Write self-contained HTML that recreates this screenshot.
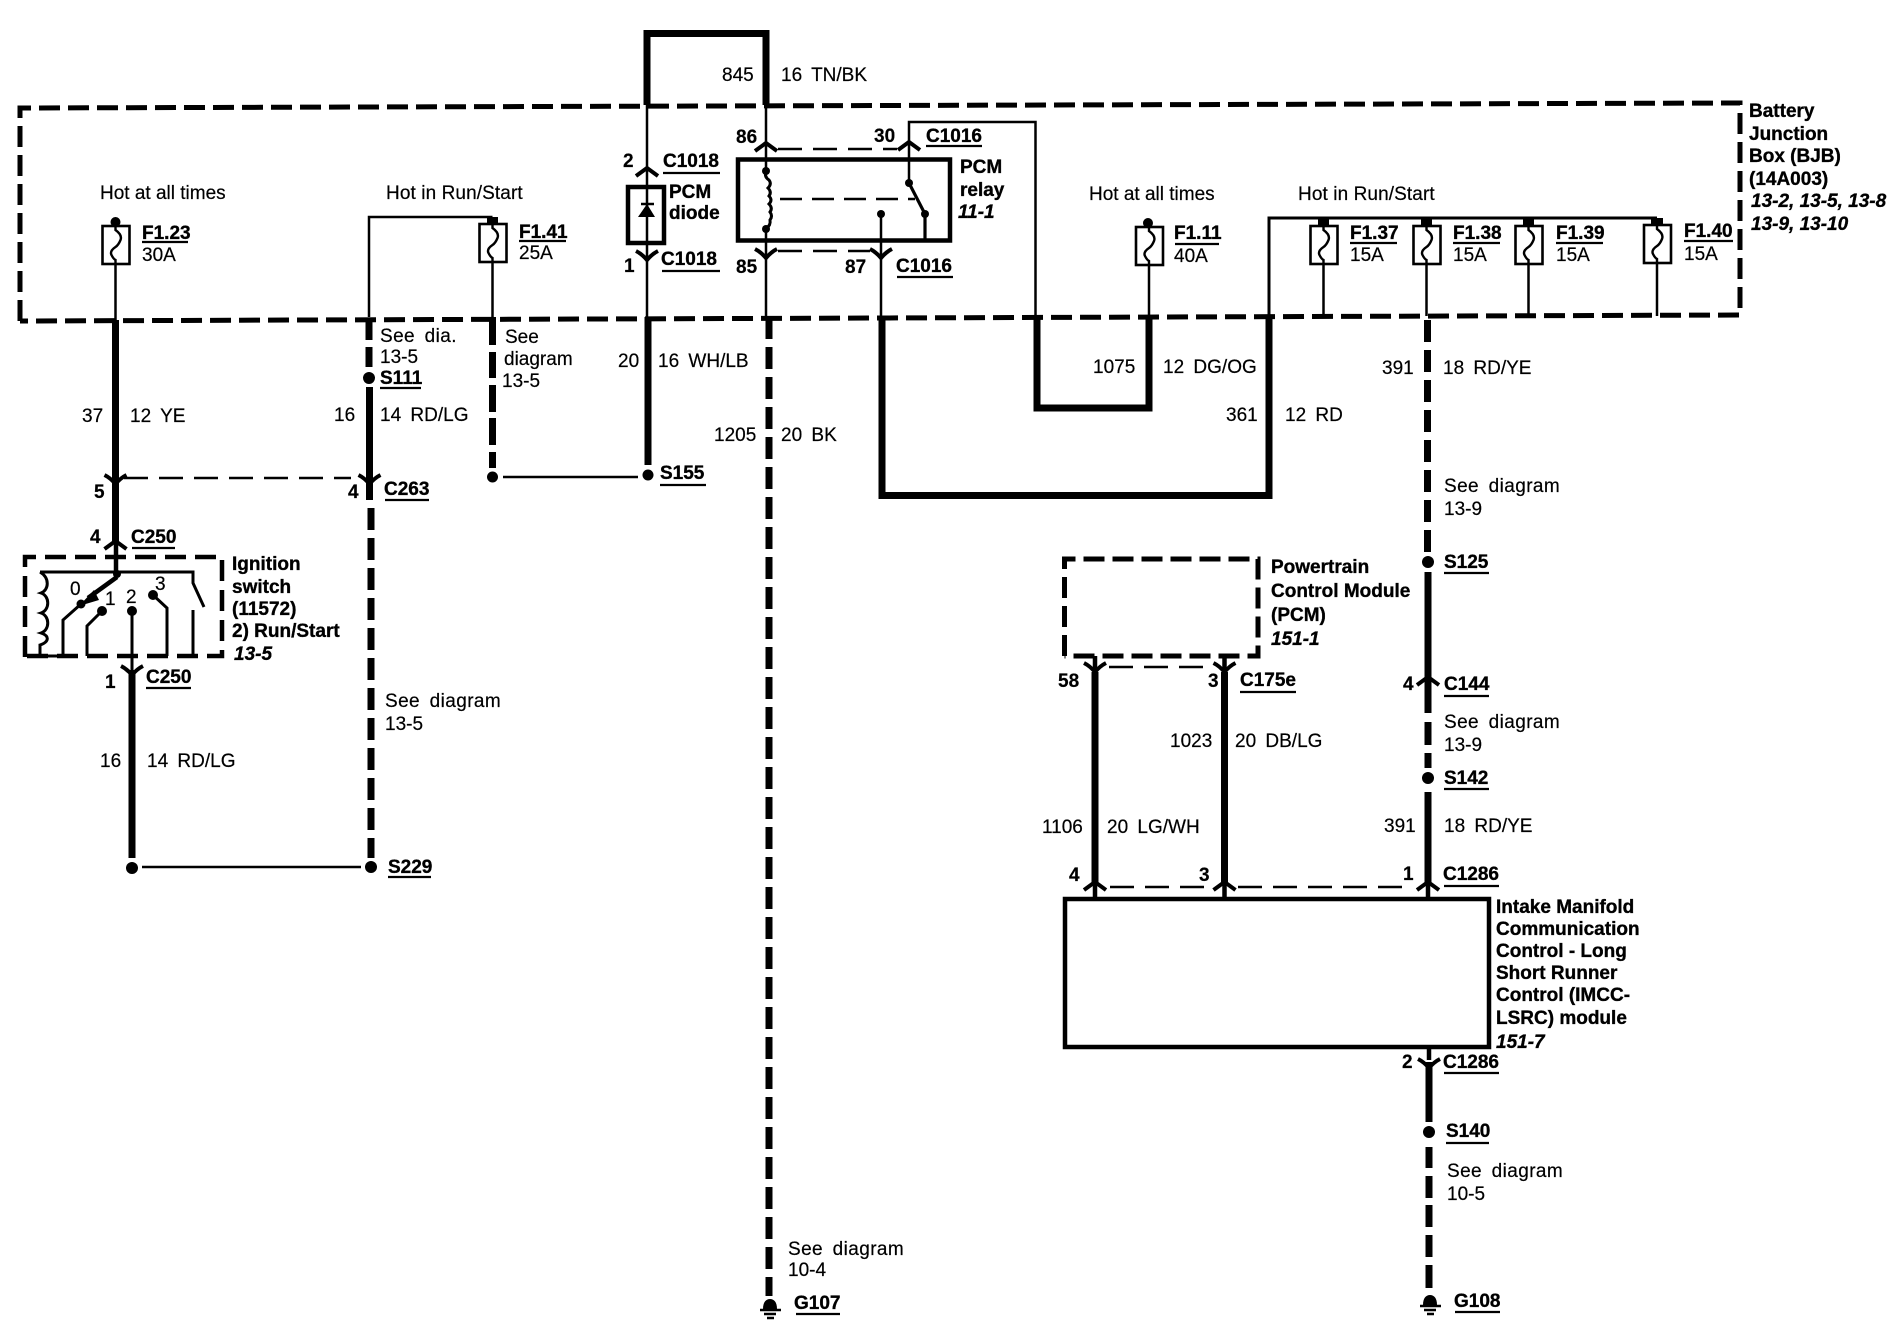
<!DOCTYPE html>
<html><head><meta charset="utf-8"><title>PCM power distribution wiring diagram</title>
<style>
html,body{margin:0;padding:0;background:#fff}
svg{display:block}
text{font-family:"Liberation Sans",Arial,sans-serif;font-size:19px;fill:#000;stroke:#000;stroke-width:.2;word-spacing:4px}
.b{font-weight:bold;stroke-width:.35;word-spacing:0}
.i{font-weight:bold;font-style:italic;stroke-width:.35;word-spacing:0}
.h{word-spacing:0}
.n{font-weight:bold;stroke-width:.2}
.s{letter-spacing:.4px}
.t{fill:none;stroke:#000;stroke-width:2.5}
.m{fill:none;stroke:#000;stroke-width:4.5}
.k{fill:none;stroke:#000;stroke-width:7}
.d{fill:none;stroke:#000;stroke-width:7;stroke-dasharray:22 8}
.bx{fill:none;stroke:#000;stroke-width:5;stroke-dasharray:21 8}
.td{fill:none;stroke:#000;stroke-width:2.5;stroke-dasharray:24 11}
.u{fill:none;stroke:#000;stroke-width:2.2}
.a{fill:none;stroke:#000;stroke-width:4}
</style></head><body>
<svg xmlns="http://www.w3.org/2000/svg" width="1904" height="1344" viewBox="0 0 1904 1344">
<defs>
<g id="fu"><rect x="-13" y="0" width="27" height="38" fill="#fff" stroke="#000" stroke-width="2.6"/><path d="M0,-6V4q7,5 5,10t-5,7q-6,4 -4,8t4,5V38" fill="none" stroke="#000" stroke-width="2.4"/></g>
<path id="up" class="a" d="M-11,8L0,0L11,8"/>
<path id="dn" class="a" d="M-11,-9Q-5,-6 0,0Q5,-6 11,-9"/>
<g id="gnd"><path d="M-7,10C-7,3 -4,0 0,0C4,0 7,3 7,10Z" fill="#000"/><path d="M-10,11H11M-6,15H6M-3,19H4" fill="none" stroke="#000" stroke-width="2.4"/></g>
</defs>
<rect width="1904" height="1344" fill="#fff"/>

<!-- Battery junction box -->
<path class="bx" d="M20,321V108L1740,103V315L20,321"/>

<!-- Wire 37 -->
<use href="#fu" x="115.5" y="226"/><circle cx="115.5" cy="222" r="5"/>
<path class="t" d="M115.5,264V320"/><path class="k" d="M115.5,320V542"/>
<use href="#dn" x="115.5" y="484"/>
<path class="td" d="M124,478H351"/>
<use href="#dn" x="369.5" y="484"/>
<use href="#up" x="115.5" y="541"/>
<path class="m" d="M116,541V572"/>

<!-- Ignition switch -->
<path class="m" d="M25,657V557H222V656H25" stroke-dasharray="21 9"/>
<path class="t" style="stroke-width:3" d="M40,572H193V583L204,607"/>
<path class="t" style="stroke-width:3" d="M40,572C50,578 49,590 41,593C50,596 50,610 41,613C50,616 50,630 41,633C50,636 49,642 40,645V656H63V620L81,604"/>
<path class="m" d="M117,577L88,598"/><path d="M79,606L94,590L99,600Z"/><circle cx="117" cy="574" r="4"/><circle cx="81" cy="604" r="4.5"/>
<circle cx="102" cy="611" r="5"/><path class="t" style="stroke-width:3" d="M102,611L87,626V656"/>
<circle cx="132" cy="611" r="5"/><path class="t" style="stroke-width:3" d="M132,611V675"/>
<circle cx="153" cy="595" r="5"/><path class="t" style="stroke-width:3" d="M153,595L167,608V656"/>
<path class="t" style="stroke-width:3" d="M193,610V656"/>
<text x="70" y="595">0</text><text x="105" y="605">1</text><text x="126" y="603">2</text><text x="155" y="590">3</text>
<use href="#dn" x="132" y="675"/>
<path class="k" d="M132,670V858"/><circle cx="132" cy="868" r="6"/>
<path class="t" d="M142,867H361"/><circle cx="371" cy="867" r="6"/>

<!-- Wire 16 C263 -->
<path class="d" d="M371,508V858"/>
<path class="k" d="M369.5,387V500"/>
<path class="t" d="M369,317V217H492.5"/>
<path class="d" d="M369,318V340M369,347V367" style="stroke-dasharray:none"/>
<circle cx="369" cy="378" r="6"/>
<use href="#fu" x="492.5" y="224"/><rect x="487" y="217" width="11" height="7"/>
<path class="t" d="M492.5,262V317"/>
<path class="d" d="M492.5,317V345M492.5,352V378M492.5,385V412M492.5,418V445M492.5,452V468" style="stroke-dasharray:none"/>
<circle cx="492.5" cy="477" r="5.5"/><path class="t" d="M503,477H638"/>
<circle cx="648" cy="475" r="5.5"/>

<!-- Wire 845 / diode -->
<path class="k" d="M647,105V33.5H766V105"/>
<path class="t" d="M647,105V317"/>
<use href="#up" x="647" y="168"/>
<rect x="628" y="187" width="36" height="56" fill="none" stroke="#000" stroke-width="4.5"/>
<path d="M647,204L638,217H655Z"/><path class="t" d="M641,204H654"/>
<use href="#dn" x="647" y="260"/>
<path class="k" d="M648,317V465"/>

<!-- Relay -->
<path class="t" d="M766,105V171M766,229V317"/>
<use href="#up" x="766" y="143"/>
<path class="td" d="M778,149H897"/>
<path class="t" d="M909,183V122H1035.5V317"/>
<use href="#up" x="909" y="142"/>
<rect x="738" y="159.5" width="212" height="81" fill="none" stroke="#000" stroke-width="4.5"/>
<path class="t" style="stroke-width:3" d="M766,171q-2,6 3,9q3,4 -1,8q4,4 1,8q4,4 0,8q4,4 1,8q3,4 0,8q1,5 -4,9"/>
<circle cx="766" cy="171" r="4"/><circle cx="766" cy="229" r="4"/>
<path class="td" style="stroke-dasharray:22 10" d="M780,199H915"/>
<circle cx="909" cy="183" r="4"/><path class="t" style="stroke-width:3.2" d="M909,183L925,214V241"/><circle cx="925" cy="214" r="4"/>
<circle cx="881" cy="214" r="4"/><path class="t" d="M881,214V317"/>
<use href="#dn" x="766" y="258"/><use href="#dn" x="881" y="258"/>
<path class="td" d="M778,251H870"/>

<!-- Wire 1205 -->
<path class="d" d="M769,317V1296"/>
<use href="#gnd" x="770" y="1299"/>

<!-- Wire 361 -->
<path class="k" d="M882,317V495.5H1269V315"/>

<!-- Wire 1075 -->
<use href="#fu" x="1149" y="227"/><circle cx="1148" cy="223" r="5"/>
<path class="t" d="M1149,264V316"/>
<path class="k" d="M1037,315V408H1149V315"/>

<!-- Hot in run/start bus -->
<path class="t" style="stroke-width:3" d="M1269,315V218H1657"/>
<use href="#fu" x="1323.5" y="226"/><rect x="1318" y="218" width="11" height="8"/><path class="t" d="M1323.5,263V316"/>
<use href="#fu" x="1426.5" y="226"/><rect x="1421" y="218" width="11" height="8"/><path class="t" d="M1426.5,263V316"/>
<use href="#fu" x="1528.5" y="226"/><rect x="1523" y="218" width="11" height="8"/><path class="t" d="M1528.5,263V316"/>
<use href="#fu" x="1657" y="225"/><rect x="1651" y="218" width="12" height="8"/><path class="t" d="M1657,263V316"/>

<!-- Wire 391 -->
<path class="d" d="M1427.5,320V552"/><circle cx="1428" cy="562" r="6"/>
<path class="k" d="M1428,572V713"/><use href="#up" x="1428" y="677"/>
<path class="k" d="M1428,722V745M1428,753V768"/><circle cx="1428" cy="778" r="6"/>
<path class="k" d="M1428,792V882"/><use href="#up" x="1428" y="882"/>
<path class="m" d="M1428,882V898"/>

<!-- PCM -->
<path class="bx" d="M1064.5,656V559H1258V656H1064.5"/>
<path class="m" d="M1095,656V672M1224.5,656V672"/>
<use href="#dn" x="1095" y="672"/><use href="#dn" x="1224.5" y="672"/>
<path class="td" d="M1109,667H1210"/>
<path class="k" d="M1095,672V882M1224.5,672V882"/>
<use href="#up" x="1095" y="882"/><use href="#up" x="1224.5" y="882"/>
<path class="m" d="M1095,882V898M1224.5,882V898"/>
<path class="td" d="M1110,887H1210M1238,887H1412"/>

<!-- Module -->
<rect x="1065" y="899" width="424" height="148" fill="none" stroke="#000" stroke-width="4.5"/>
<path class="m" d="M1429,1049V1060"/>
<use href="#dn" x="1429" y="1068"/>
<path class="k" d="M1429,1062V1122"/><circle cx="1429" cy="1132" r="6"/>
<path class="k" d="M1429,1147V1168M1429,1176V1198M1429,1205V1227M1429,1235V1257M1429,1265V1288"/>
<use href="#gnd" x="1430" y="1295"/>

<!-- Text -->
<text class="h" x="100" y="199">Hot at all times</text>
<text class="h" x="386" y="199" style="letter-spacing:.1px">Hot in Run/Start</text>
<text class="h" x="1089" y="200">Hot at all times</text>
<text class="h" x="1298" y="200" style="letter-spacing:.1px">Hot in Run/Start</text>

<text class="b" x="142" y="239">F1.23</text><path class="u" d="M142,242H188"/><text x="142" y="261">30A</text>
<text class="b" x="519" y="238">F1.41</text><path class="u" d="M519,241H566"/><text x="519" y="259">25A</text>
<text class="b" x="1174" y="239">F1.11</text><path class="u" d="M1175,244H1219"/><text x="1174" y="262">40A</text>
<text class="b" x="1350" y="239">F1.37</text><path class="u" d="M1350,243H1397"/><text x="1350" y="261">15A</text>
<text class="b" x="1453" y="239">F1.38</text><path class="u" d="M1453,243H1500"/><text x="1453" y="261">15A</text>
<text class="b" x="1556" y="239">F1.39</text><path class="u" d="M1556,243H1603"/><text x="1556" y="261">15A</text>
<text class="b" x="1684" y="237">F1.40</text><path class="u" d="M1684,241H1733"/><text x="1684" y="260">15A</text>

<text class="b" x="1749" y="117">Battery</text>
<text class="b" x="1749" y="140">Junction</text>
<text class="b" x="1749" y="162">Box (BJB)</text>
<text class="b" x="1749" y="185">(14A003)</text>
<text class="i" x="1751" y="207">13-2, 13-5, 13-8</text>
<text class="i" x="1751" y="230">13-9, 13-10</text>

<text x="82" y="422">37</text><text x="130" y="422">12 YE</text>
<text class="s" x="380" y="342">See dia.</text><text x="380" y="363">13-5</text>
<text class="b" x="380" y="384">S111</text><path class="u" d="M380,388H421"/>
<text x="334" y="421">16</text><text x="380" y="421">14 RD/LG</text>
<text x="505" y="343">See</text><text x="504" y="365">diagram</text><text x="502" y="387">13-5</text>
<text class="n" x="94" y="498">5</text><text class="n" x="348" y="498">4</text>
<text class="b" x="384" y="495">C263</text><path class="u" d="M385,500H429"/>
<text class="n" x="90" y="543">4</text>
<text class="b" x="131" y="543">C250</text><path class="u" d="M132,548H175"/>
<text class="b" x="232" y="570">Ignition</text>
<text class="b" x="232" y="593">switch</text>
<text class="b" x="232" y="615">(11572)</text>
<text class="b" x="232" y="637">2) Run/Start</text>
<text class="i" x="234" y="660">13-5</text>
<text class="n" x="105" y="688">1</text>
<text class="b" x="146" y="683">C250</text><path class="u" d="M146,688H191"/>
<text x="100" y="767">16</text><text x="147" y="767">14 RD/LG</text>
<text class="s" x="385" y="710" dy="-3">See diagram</text><text x="385" y="730">13-5</text>
<text class="b" x="388" y="873">S229</text><path class="u" d="M388,877H431"/>

<text x="722" y="81">845</text><text x="781" y="81">16 TN/BK</text>
<text class="n" x="623" y="167">2</text>
<text class="b" x="663" y="167">C1018</text><path class="u" d="M663,173H720"/>
<text class="b" x="669" y="198">PCM</text><text class="b" x="669" y="219">diode</text>
<text class="n" x="624" y="272">1</text>
<text class="b" x="661" y="265">C1018</text><path class="u" d="M662,271H720"/>
<text class="n" x="736" y="143">86</text><text class="n" x="874" y="142">30</text>
<text class="b" x="926" y="142">C1016</text><path class="u" d="M926,146H982"/>
<text class="b" x="960" y="173">PCM</text><text class="b" x="960" y="196">relay</text><text class="i" x="958" y="218">11-1</text>
<text class="n" x="736" y="273">85</text><text class="n" x="845" y="273">87</text>
<text class="b" x="896" y="272">C1016</text><path class="u" d="M897,277H953"/>
<text x="618" y="367">20</text><text x="658" y="367">16 WH/LB</text>
<text x="714" y="441">1205</text><text x="781" y="441">20 BK</text>
<text class="b" x="660" y="479">S155</text><path class="u" d="M660,485H706"/>
<text x="1093" y="373">1075</text><text x="1163" y="373">12 DG/OG</text>
<text x="1226" y="421">361</text><text x="1285" y="421">12 RD</text>
<text x="1382" y="374">391</text><text x="1443" y="374">18 RD/YE</text>
<text class="s" x="1444" y="492">See diagram</text><text x="1444" y="515">13-9</text>
<text class="b" x="1444" y="568">S125</text><path class="u" d="M1444,573H1489"/>

<text class="b" x="1271" y="573">Powertrain</text>
<text class="b" x="1271" y="597">Control Module</text>
<text class="b" x="1271" y="621">(PCM)</text>
<text class="i" x="1271" y="645">151-1</text>
<text class="n" x="1058" y="687">58</text><text class="n" x="1208" y="687">3</text>
<text class="b" x="1240" y="686">C175e</text><path class="u" d="M1240,692H1296"/>
<text x="1170" y="747">1023</text><text x="1235" y="747">20 DB/LG</text>
<text x="1042" y="833">1106</text><text x="1107" y="833">20 LG/WH</text>
<text class="n" x="1069" y="881">4</text><text class="n" x="1199" y="881">3</text><text class="n" x="1403" y="880">1</text>
<text class="n" x="1403" y="690">4</text>
<text class="b" x="1444" y="690">C144</text><path class="u" d="M1444,696H1489"/>
<text class="s" x="1444" y="728">See diagram</text><text x="1444" y="751">13-9</text>
<text class="b" x="1444" y="784">S142</text><path class="u" d="M1444,789H1489"/>
<text x="1384" y="832">391</text><text x="1444" y="832">18 RD/YE</text>
<text class="b" x="1443" y="880">C1286</text><path class="u" d="M1444,886H1499"/>

<text class="b" x="1496" y="913">Intake Manifold</text>
<text class="b" x="1496" y="935">Communication</text>
<text class="b" x="1496" y="957">Control - Long</text>
<text class="b" x="1496" y="979">Short Runner</text>
<text class="b" x="1496" y="1001">Control (IMCC-</text>
<text class="b" x="1496" y="1024">LSRC) module</text>
<text class="i" x="1496" y="1048">151-7</text>

<text class="n" x="1402" y="1068">2</text>
<text class="b" x="1443" y="1068">C1286</text><path class="u" d="M1444,1073H1499"/>
<text class="b" x="1446" y="1137">S140</text><path class="u" d="M1446,1143H1489"/>
<text class="s" x="1447" y="1177">See diagram</text><text x="1447" y="1200">10-5</text>
<text class="b" x="1454" y="1307">G108</text><path class="u" d="M1455,1312H1500"/>
<text class="s" x="788" y="1255">See diagram</text><text x="788" y="1276">10-4</text>
<text class="b" x="794" y="1309">G107</text><path class="u" d="M796,1314H840"/>
</svg>
</body></html>
